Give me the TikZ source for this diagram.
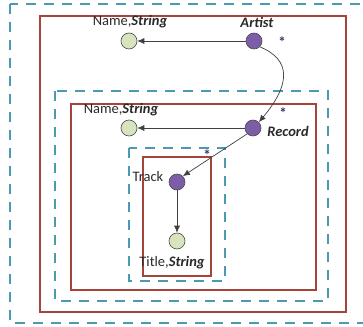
\documentclass[tikz,border=0pt]{standalone}
\usepackage{fontspec}
\setmainfont{Carlito}
\usetikzlibrary{arrows.meta}
\definecolor{dashc}{HTML}{4A9BB0}
\definecolor{redc}{HTML}{A5443C}
\definecolor{purp}{HTML}{7B5EA7}
\definecolor{grn}{HTML}{D7E4BD}
\definecolor{txtc}{HTML}{2A2A2A}
\definecolor{starc}{HTML}{2B3A67}
\tikzset{
  dbox/.style={draw=dashc, line width=1.6pt, dash pattern=on 10pt off 8pt},
  rbox/.style={draw=redc, line width=1.5pt},
  objn/.style={circle, draw=black!70, fill=purp, minimum size=16pt, inner sep=0pt, line width=0.6pt},
  valn/.style={circle, draw=black!70, fill=grn, minimum size=16pt, inner sep=0pt, line width=0.6pt},
  lbl/.style={font=\fontsize{14.5}{16}\selectfont, text=txtc, inner sep=1pt},
  star/.style={font=\bfseries\fontsize{15}{16}\selectfont, text=starc, inner sep=0pt, text depth=0pt, text height=6pt},
  edge/.style={draw=black!75, line width=0.7pt, -{Latex[length=7pt,width=6pt]}},
}
\begin{document}
\begin{tikzpicture}[x=1pt,y=-1pt]
\useasboundingbox (0,0) rectangle (363,326);
\fill[white] (0,0) rectangle (363,326);
% boxes
\draw[dbox] (10,4) rectangle (370,323);
\draw[rbox] (40,16) rectangle (346,312);
\draw[dbox] (55,91) rectangle (328,301);
\draw[rbox] (71,104) rectangle (316,290);
\draw[dbox] (129,148) rectangle (225,281);
\draw[rbox] (143,157) rectangle (211,276);
% nodes
\node[valn] (name1) at (129,41) {};
\node[objn] (artist) at (254,41) {};
\node[valn] (name2) at (129,128) {};
\node[objn] (record) at (253,128) {};
\node[objn] (track) at (177,182) {};
\node[valn] (title) at (177,241) {};
% labels
\node[lbl] (lname1) at (130,22) {Name,\textbf{\textit{String}}};
\node[lbl] (lartist) at (257,22) {\textbf{\textit{Artist}}};
\node[lbl] (lname2) at (121,110) {Name,\textbf{\textit{String}}};
\node[lbl] (lrecord) at (288,131) {\textbf{\textit{Record}}};
\node[lbl] (ltrack) at (148,177) {Track};
\node[lbl] (ltitle) at (172,263) {Title,\textbf{\textit{String}}};
\node[star] (s1) at (282,45) {*};
\node[star] (s2) at (283,115) {*};
\node[star] (s3) at (207,157) {*};
% edges
\draw[edge] (artist) -- (name1);
\draw[edge] (record) -- (name2);
\draw[edge] (artist.south east) .. controls (292,60) and (290,85) .. (record.north east);
\draw[edge] (record.south west) -- (track.north east);
\draw[edge] (track) -- (title);
\end{tikzpicture}
\end{document}
